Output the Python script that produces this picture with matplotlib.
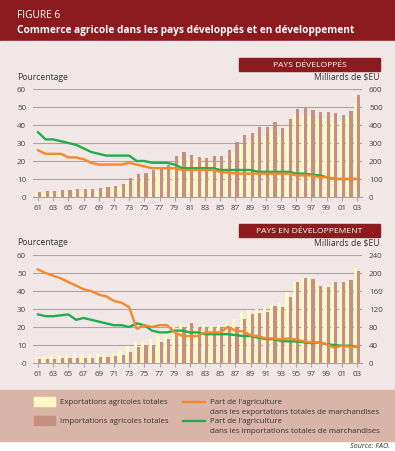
import numpy as np
import matplotlib
matplotlib.use("Agg")
import matplotlib.pyplot as plt
from matplotlib.patches import Rectangle
from matplotlib.lines import Line2D

plt.rcParams['font.family'] = ['Open Sans', 'DejaVu Sans']

years = np.arange(1961, 2004)
year_labels = [str(y)[2:] for y in years[::2]]

# pays developpes (milliards de $EU)
dev_exp = [22, 22, 24, 28, 28, 31, 30, 33, 35, 43, 52, 57, 91, 106, 107, 124, 146, 165, 183, 217,
           220, 206, 193, 196, 189, 211, 252, 294, 309, 339, 339, 370, 346, 389, 459, 463, 452, 435,
           431, 437, 424, 448, 524]
dev_imp = [30, 31, 33, 37, 39, 43, 43, 44, 48, 54, 61, 72, 104, 128, 131, 150, 169, 180, 228, 248,
           233, 222, 217, 228, 228, 261, 306, 344, 357, 391, 391, 417, 381, 433, 491, 493, 481, 472,
           470, 467, 457, 480, 567]
# part de l'agriculture (%)
dev_share_exp = [26, 24, 24, 24, 22, 22, 21, 19, 18, 18, 18, 18, 19, 18, 17, 16, 16, 16, 16, 15,
                 15, 15, 15, 15, 14, 13.5, 13, 13, 13, 13, 13, 13, 13, 13, 12, 12, 12, 11, 11, 10,
                 10, 10, 10]
dev_share_imp = [36, 32, 32, 31, 30, 29, 27, 25, 24, 23, 23, 23, 23, 20, 20, 19, 19, 19, 18, 16,
                 16, 16, 16, 16, 15, 15, 15, 15, 15, 14, 14, 14, 14, 14, 13, 13, 12.5, 12, 11, 10,
                 10, 10, 10]

# pays en developpement (milliards de $EU)
dvg_exp = [15, 16, 17, 18, 19, 19, 19, 20, 21, 23, 23, 27, 38, 47, 47, 54, 64, 70, 80, 90,
           87, 81, 87, 83, 85, 93, 98, 112, 117, 121, 124, 130, 133, 157, 181, 186, 191, 180,
           171, 175, 176, 182, 211]
dvg_imp = [9, 9, 10, 11, 11, 12, 12, 12, 13, 14, 16, 17, 25, 36, 40, 40, 46, 54, 66, 81,
           89, 81, 81, 81, 79, 80, 80, 97, 108, 112, 113, 127, 125, 146, 180, 188, 186, 171,
           170, 179, 180, 184, 204]
dvg_share_exp = [52, 50, 48.5, 47, 45, 43, 41, 40, 38, 37, 34.5, 33.5, 31, 19, 21, 20, 21, 21, 17, 15,
                 15, 15, 17, 17, 17, 20, 18, 17.5, 15.5, 14.8, 13.7, 13.7, 13, 13.7, 13, 12, 11.5,
                 11.5, 10.4, 8.5, 9.6, 9, 9]
dvg_share_imp = [27, 26, 26, 26.5, 27, 24, 25, 24, 23, 22, 21, 21, 20, 22, 21, 18, 17, 17, 18, 18,
                 17, 17, 16, 16, 16, 16, 15.5, 15, 15, 14, 13.3, 13.3, 12.2, 12, 12, 11.5, 11,
                 11.5, 10.4, 10, 9.6, 9.6, 9]

c_exp = '#fdf8c4'
c_imp = '#c4907f'
c_orange = '#f7872a'
c_green = '#1fae4b'
c_bg = '#f2e7e7'
c_red = '#8c1b20'
c_leg = '#d9b5a8'
c_grid = '#aca4a4'
c_txt = '#4a4444'

W, H = 395, 452
fig = plt.figure(figsize=(W / 100, H / 100), dpi=100, facecolor='white')

def fx(px):
    return px / W

def fy(py):
    return 1 - py / H

# background bands
fig.patches.append(Rectangle((0, fy(42)), 1, 42 / H, transform=fig.transFigure, color=c_red, zorder=-10))
fig.patches.append(Rectangle((0, fy(391)), 1, (391 - 42) / H, transform=fig.transFigure, color=c_bg, zorder=-10))
fig.patches.append(Rectangle((0, fy(442)), 1, (442 - 391) / H, transform=fig.transFigure, color=c_leg, zorder=-10))

fig.text(fx(17), fy(16), 'FIGURE 6', color='white', fontsize=7.3, va='center')
fig.text(fx(17), fy(31), 'Commerce agricole dans les pays développés et en développement',
         color='white', fontsize=7.3, fontweight='bold', va='center')


def panel(top_px, bot_px, exp, imp, sh_exp, sh_imp, ymax, yticks, title, box_top):
    ax = fig.add_axes([fx(33), fy(bot_px), fx(362 - 33), (bot_px - top_px) / H])
    ax.set_facecolor('none')
    ax2 = ax.twinx()

    ax.bar(years - 0.21, exp, width=0.42, color=c_exp, zorder=2)
    ax.bar(years + 0.21, imp, width=0.42, color=c_imp, zorder=2)
    ax.set_xlim(1960.34, 2003.66)
    ax.set_ylim(0, ymax)
    ax.set_yticks(yticks)
    ax.grid(axis='y', color=c_grid, lw=0.8, zorder=0)
    ax.set_axisbelow(True)
    for s in ['top', 'left', 'right']:
        ax.spines[s].set_visible(False)
    ax.spines['bottom'].set_color(c_grid)
    ax.set_xticks(years[::2])
    ax.set_xticklabels(year_labels)
    ax.tick_params(axis='x', length=3, color=c_grid, labelsize=5.8, labelcolor=c_txt, pad=2)

    ax2.plot(years, sh_imp, color=c_green, lw=1.7, zorder=3)
    ax2.plot(years, sh_exp, color=c_orange, lw=1.7, zorder=4)
    ax2.set_ylim(0, 60)
    ax2.set_yticks(np.arange(0, 61, 10))
    for s in ax2.spines.values():
        s.set_visible(False)

    ax.yaxis.tick_right()
    ax2.yaxis.tick_left()
    ax.tick_params(axis='y', length=0, labelsize=5.8, labelcolor=c_txt, pad=5)
    ax2.tick_params(axis='y', length=0, labelsize=5.8, labelcolor=c_txt, pad=5)

    fig.text(fx(17), fy(top_px - 13), 'Pourcentage', fontsize=6.2, color='#333333', va='center')
    fig.text(fx(380), fy(top_px - 13), 'Milliards de $EU', fontsize=6.2, color='#333333',
             va='center', ha='right')
    fig.patches.append(Rectangle((fx(239), fy(box_top + 13)), fx(380 - 239), 13 / H,
                                 transform=fig.transFigure, color=c_red, zorder=1))
    fig.text(fx(309.5), fy(box_top + 6.8), title, color='white', fontsize=6.1,
             ha='center', va='center')


panel(90, 198, dev_exp, dev_imp, dev_share_exp, dev_share_imp, 600,
      np.arange(0, 601, 100), 'PAYS DÉVELOPPÉS', 59)
panel(256, 364, dvg_exp, dvg_imp, dvg_share_exp, dvg_share_imp, 240,
      np.arange(0, 241, 40), 'PAYS EN DÉVELOPPEMENT', 225)

# legend
fig.patches.append(Rectangle((fx(34), fy(407)), fx(21), 9 / H, transform=fig.transFigure,
                             color=c_exp, zorder=1))
fig.patches.append(Rectangle((fx(34), fy(426)), fx(21), 9 / H, transform=fig.transFigure,
                             color=c_imp, zorder=1))
fs = 5.7
fig.text(fx(60), fy(403), 'Exportations agricoles totales', fontsize=fs, color='#333333', va='center')
fig.text(fx(60), fy(421.5), 'Importations agricoles totales', fontsize=fs, color='#333333', va='center')
fig.lines.append(Line2D([fx(183), fx(205)], [fy(403), fy(403)], transform=fig.transFigure,
                        color=c_orange, lw=1.7))
fig.lines.append(Line2D([fx(183), fx(205)], [fy(421.5), fy(421.5)], transform=fig.transFigure,
                        color=c_green, lw=1.7))
fig.text(fx(210), fy(403), "Part de l'agriculture", fontsize=fs, color='#333333', va='center')
fig.text(fx(210), fy(413), 'dans les exportations totales de marchandises', fontsize=fs,
         color='#333333', va='center')
fig.text(fx(210), fy(421.5), "Part de l'agriculture", fontsize=fs, color='#333333', va='center')
fig.text(fx(210), fy(431.5), 'dans les importations totales de marchandises', fontsize=fs,
         color='#333333', va='center')

fig.text(fx(390), fy(447), 'Source: FAO.', fontsize=5.2, style='italic', color='#333333',
         ha='right', va='center')

fig.savefig('out.png', dpi=100, facecolor='white')
